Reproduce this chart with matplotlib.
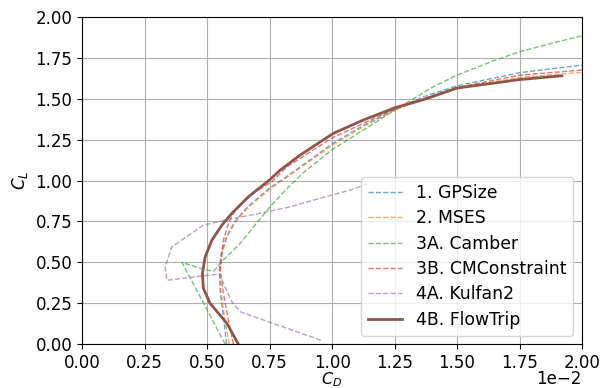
import matplotlib
matplotlib.use("Agg")
import matplotlib.pyplot as plt

# Drag polars (CD, CL) for each airfoil design
gpsize_cd = [0.00578, 0.00565, 0.00552, 0.00549, 0.00557, 0.00577, 0.00610, 0.00662, 0.00748,
             0.00855, 0.00997, 0.01122, 0.01250, 0.01370, 0.01500, 0.01750, 0.02000]
gpsize_cl = [0.0, 0.167, 0.33, 0.453, 0.555, 0.656, 0.748, 0.84, 0.952,
             1.064, 1.222, 1.335, 1.435, 1.515, 1.58, 1.660, 1.706]

mses_cd = [0.00588, 0.00569, 0.00555, 0.00551, 0.00560, 0.00580, 0.00614, 0.00667, 0.00754,
           0.00860, 0.01001, 0.01125, 0.01252, 0.01375, 0.01500, 0.01750, 0.02000]
mses_cl = [0.0, 0.167, 0.33, 0.453, 0.555, 0.656, 0.748, 0.84, 0.952,
           1.064, 1.217, 1.329, 1.431, 1.505, 1.565, 1.631, 1.662]

camber_cd = [0.00572, 0.00486, 0.00399, 0.00470, 0.00525, 0.00565, 0.00632, 0.00695, 0.00760,
             0.00825, 0.00890, 0.01001, 0.01125, 0.01250, 0.01400, 0.01500, 0.01650, 0.01750,
             0.01880, 0.02000]
camber_cl = [0.0, 0.25, 0.50, 0.465, 0.445, 0.514, 0.616, 0.735, 0.855,
             0.96, 1.055, 1.19, 1.31, 1.43, 1.57, 1.645, 1.735, 1.788,
             1.84, 1.886]

cmcon_cd = [0.00605, 0.00585, 0.00565, 0.00552, 0.00556, 0.00565, 0.00585, 0.00612, 0.00680,
            0.00759, 0.00819, 0.01001, 0.01125, 0.01252, 0.01372, 0.01500, 0.01750, 0.02000]
cmcon_cl = [0.0, 0.147, 0.31, 0.453, 0.534, 0.636, 0.738, 0.82, 0.92,
            0.993, 1.084, 1.262, 1.35, 1.44, 1.505, 1.57, 1.645, 1.676]

kulfan_cd = [0.00955, 0.00632, 0.00599, 0.00565, 0.00552, 0.00339, 0.00332, 0.00359, 0.00485,
             0.00605, 0.00712, 0.00832, 0.00959, 0.01072, 0.01140]
kulfan_cl = [0.024, 0.198, 0.259, 0.371, 0.43, 0.391, 0.473, 0.595, 0.728,
             0.769, 0.80, 0.84, 0.895, 0.942, 0.98]

flowtrip_cd = [0.00625, 0.00579, 0.00512, 0.00485, 0.00481, 0.00492, 0.00519, 0.00559, 0.00599,
               0.00665, 0.00752, 0.00792, 0.00872, 0.01005, 0.01124, 0.01252, 0.01372, 0.01500,
               0.01752, 0.01919]
flowtrip_cl = [0.0, 0.127, 0.249, 0.341, 0.432, 0.534, 0.636, 0.728, 0.80,
               0.901, 1.007, 1.064, 1.156, 1.289, 1.370, 1.446, 1.498, 1.566,
               1.618, 1.641]

labels = ["1. GPSize", "2. MSES", "3A. Camber", "3B. CMConstraint", "4A. Kulfan2", "4B. FlowTrip"]

fig, ax = plt.subplots(figsize=(6.0, 3.88), dpi=100)
fig.subplots_adjust(left=0.137, right=0.97, top=0.956, bottom=0.113)

dashed = [(gpsize_cd, gpsize_cl), (mses_cd, mses_cl), (camber_cd, camber_cl),
          (cmcon_cd, cmcon_cl), (kulfan_cd, kulfan_cl)]
for i, (cd, cl) in enumerate(dashed):
    ax.plot(cd, cl, ls="--", lw=1.0, color=f"C{i}", alpha=0.65, label=labels[i])
ax.plot(flowtrip_cd, flowtrip_cl, ls="-", lw=2.0, color="C5", label=labels[5])

ax.set_xlim(0, 0.02)
ax.set_ylim(0, 2.0)
ax.ticklabel_format(axis="x", style="sci", scilimits=(0, 0))
ax.tick_params(labelsize=12)
ax.grid(True, color="#b0b0b0", lw=0.8)
ax.set_xlabel("$C_D$", fontsize=11.5)
ax.xaxis.set_label_coords(0.5, -0.081)
ax.set_ylabel("$C_L$", fontsize=12)
ax.legend(loc="lower right", fontsize=12.4, labelspacing=0.425)

# Place the axis multiplier a little closer to the tick labels
fig.canvas.draw()
offset = ax.xaxis.get_offset_text()
offset_str = offset.get_text()
offset.set_visible(False)
ax.text(1.0, -0.1223, offset_str, transform=ax.transAxes, ha="right", va="baseline",
        fontsize=12)

fig.savefig("out.png", dpi=100)
